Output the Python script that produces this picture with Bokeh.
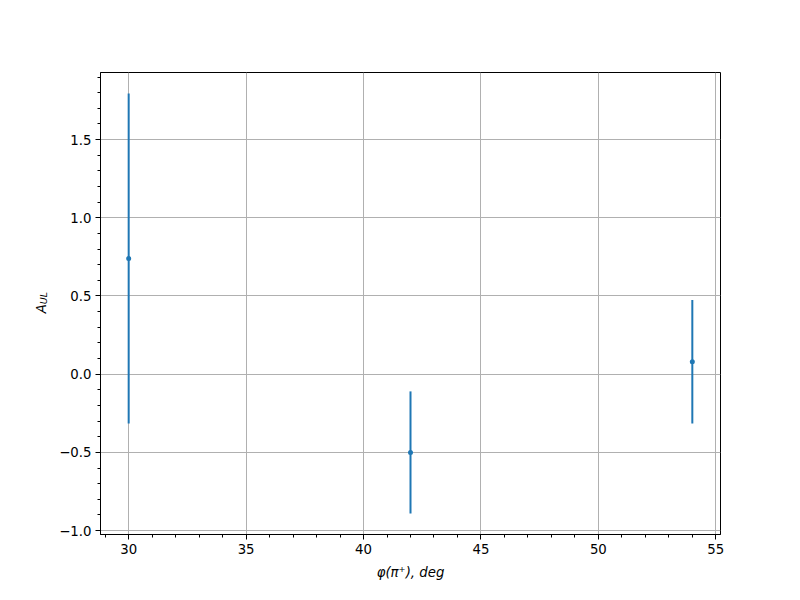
import math
from bokeh.plotting import figure
from bokeh.layouts import row
from bokeh.models import FixedTicker, CustomJSTickFormatter, Label, Range1d
from bokeh.embed import file_html
from bokeh.resources import INLINE

# data
x_deg = [30, 42, 54]
a_ul = [0.74, -0.50, 0.08]
a_err = [1.055, 0.39, 0.395]

x_major = [30, 35, 40, 45, 50, 55]
x_minor = list(range(29, 56))
y_major = [-1.0, -0.5, 0.0, 0.5, 1.0, 1.5]
y_minor = [round(-1.0 + 0.1 * i, 1) for i in range(0, 30)]

X0, X1 = 28.8, 55.2
Y0, Y1 = -1.025, 1.929

LW = 50  # width of the strip holding the y-axis title

p = figure(width=800 - LW, height=600, x_range=Range1d(X0, X1), y_range=Range1d(Y0, Y1),
           output_backend="svg", toolbar_location=None,
           min_border_left=100 - LW, min_border_right=80, min_border_top=72, min_border_bottom=66)
p.background_fill_color = "white"
p.border_fill_color = "white"
p.outline_line_color = "black"
p.outline_line_width = 1
p.outline_line_alpha = 1

xfmt = CustomJSTickFormatter(code="return String(Math.round(tick));")
yfmt = CustomJSTickFormatter(code="var v = Math.abs(tick).toFixed(1); return (tick < -1e-9 ? '\\u2212' : '') + v;")

p.xaxis.ticker = FixedTicker(ticks=x_major, minor_ticks=x_minor)
p.yaxis.ticker = FixedTicker(ticks=y_major, minor_ticks=y_minor)
p.xaxis.formatter = xfmt
p.yaxis.formatter = yfmt

for ax in (p.xaxis, p.yaxis):
    ax.major_label_text_font = "DejaVu Sans"
    ax.major_label_text_font_size = "13.3px"
    ax.major_label_text_color = "black"
    ax.major_tick_out = 5
    ax.major_tick_in = 0
    ax.minor_tick_out = 3
    ax.minor_tick_in = 0
    ax.axis_line_color = "black"
    ax.major_tick_line_color = "black"
    ax.minor_tick_line_color = "black"
    ax.axis_line_width = 1
    ax.major_label_standoff = 4

p.xaxis.axis_label = "φ(π⁺), deg"
p.xaxis.axis_label_text_font = "DejaVu Sans"
p.xaxis.axis_label_text_font_style = "italic"
p.xaxis.axis_label_text_font_size = "13.3px"
p.xaxis.axis_label_text_color = "black"
p.xaxis.axis_label_standoff = 8

p.xgrid.grid_line_color = "#b0b0b0"
p.ygrid.grid_line_color = "#b0b0b0"
p.xgrid.grid_line_width = 1
p.ygrid.grid_line_width = 1

lo = [v - e for v, e in zip(a_ul, a_err)]
hi = [v + e for v, e in zip(a_ul, a_err)]
p.segment(x0=x_deg, y0=lo, x1=x_deg, y1=hi, line_color="#1f77b4", line_width=2)
p.scatter(x=x_deg, y=a_ul, size=5, color="#1f77b4", line_width=0)

# strip on the left for the rotated y-axis title  A_UL
s = figure(width=LW, height=600, x_range=Range1d(0, LW), y_range=Range1d(0, 600),
           output_backend="svg", toolbar_location=None,
           x_axis_type=None, y_axis_type=None, min_border=0)
s.outline_line_color = None
s.background_fill_color = "white"
s.border_fill_color = "white"
s.xgrid.visible = False
s.ygrid.visible = False
s.add_layout(Label(x=41, y=299, text="A", angle=math.pi / 2,
                   text_align="right", text_baseline="alphabetic",
                   text_font="DejaVu Sans", text_font_style="italic",
                   text_font_size="13.3px", text_color="black"))
s.add_layout(Label(x=42.5, y=299, text="UL", angle=math.pi / 2,
                   text_align="left", text_baseline="alphabetic",
                   text_font="DejaVu Sans", text_font_style="italic",
                   text_font_size="9.5px", text_color="black"))

layout = row(s, p, spacing=0)
open("out.html", "w").write(file_html(layout, INLINE))
